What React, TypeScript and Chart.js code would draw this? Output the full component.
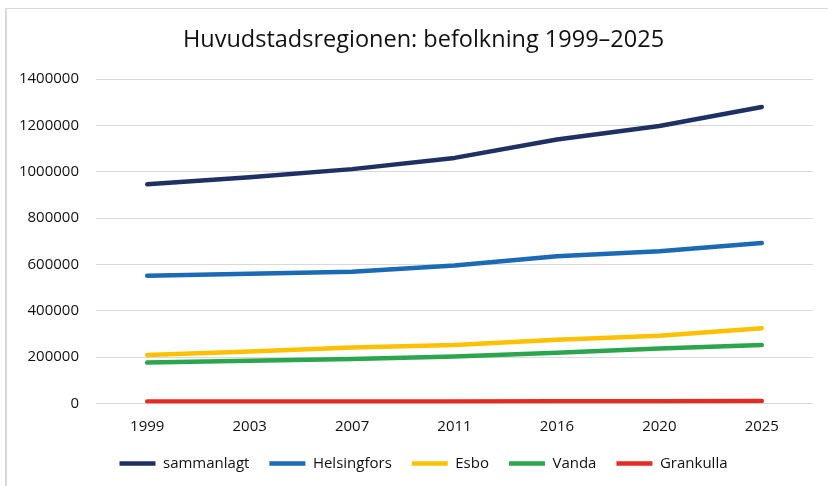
import React, { useEffect, useRef } from "react";
import { Chart, registerables } from "chart.js";

Chart.register(...registerables);

const years = ["1999", "2003", "2007", "2011", "2016", "2020", "2025"];
const sammanlagt = [945600, 976600, 1011200, 1059600, 1138600, 1197000, 1279300];
const helsingfors = [551100, 559700, 568500, 595400, 635200, 656900, 692000];
const esbo = [209700, 224200, 241600, 252400, 274600, 292800, 325000];
const vanda = [176400, 184000, 192500, 203000, 219300, 237200, 252000];
const grankulla = [8500, 8600, 8600, 8800, 9500, 10100, 10300];
const yTicks = [0, 200000, 400000, 600000, 800000, 1000000, 1200000, 1400000];

const FONT = "'Open Sans', 'Noto Sans', sans-serif";

const widenYLabelArea = {
  id: "widenYLabelArea",
  afterLayout(chart: any) {
    const y = chart.scales.y;
    if (y) y.left = 0;
  },
};

export default function App() {
  const ref = useRef<HTMLCanvasElement | null>(null);
  useEffect(() => {
    if (!ref.current) return;
    const mk = (label: string, data: number[], color: string) => ({
      label,
      data,
      borderColor: color,
      backgroundColor: color,
      borderWidth: 4.5,
      pointRadius: 0,
      pointHoverRadius: 0,
      tension: 0,
      borderCapStyle: "round" as const,
      borderJoinStyle: "round" as const,
      fill: false,
    });
    const chart = new Chart(ref.current, {
      type: "line",
      data: {
        labels: years,
        datasets: [
          mk("sammanlagt", sammanlagt, "#1F3064"),
          mk("Helsingfors", helsingfors, "#1B6AB5"),
          mk("Esbo", esbo, "#FFC000"),
          mk("Vanda", vanda, "#2BA64D"),
          mk("Grankulla", grankulla, "#E52A24"),
        ],
      },
      plugins: [widenYLabelArea],
      options: {
        animation: false,
        responsive: false,
        maintainAspectRatio: false,
        layout: { padding: { left: 34, right: 15, top: 0, bottom: 5 } },
        plugins: {
          title: {
            display: true,
            text: "Huvudstadsregionen: befolkning 1999–2025",
            color: "#111",
            font: { family: FONT, size: 23.5, weight: "normal" },
            padding: { top: 26.5, bottom: 24.3 },
          },
          legend: {
            position: "bottom",
            labels: {
              usePointStyle: true,
              pointStyle: "line",
              pointStyleWidth: 36,
              boxHeight: 15,
              padding: 20,
              color: "#111",
              font: { family: FONT, size: 15 },
            },
          },
          tooltip: { enabled: false },
        },
        scales: {
          x: {
            offset: true,
            grid: { display: false, drawTicks: false },
            border: { display: false },
            afterFit: (s: any) => {
              s.height = 32.5;
            },
            ticks: {
              color: "#111",
              padding: 14,
              font: { family: FONT, size: 15 },
            },
          },
          y: {
            min: 0,
            max: 1400000,
            afterBuildTicks: (s: any) => {
              s.ticks = yTicks.map((v) => ({ value: v }));
            },
            afterFit: (s: any) => {
              s.width = 62;
            },
            grid: { color: "#d9d9d9", lineWidth: 1, drawTicks: false },
            border: { display: false },
            ticks: {
              color: "#111",
              padding: 17,
              font: { family: FONT, size: 15 },
              callback: (v: any) => String(v),
            },
          },
        },
      },
    });
    return () => chart.destroy();
  }, []);
  return (
    <>
      <div
        style={{
          position: "fixed",
          left: 0,
          top: 0,
          width: 828,
          height: 486,
          background: "#fff",
        }}
      >
        <canvas ref={ref} width={828} height={486} style={{ display: "block", width: 828, height: 486 }} />
      </div>
      <div
        style={{
          position: "fixed",
          left: 5,
          top: 8,
          width: 840,
          height: 500,
          borderLeft: "2px solid #d9d9d9",
          borderTop: "1px solid #d9d9d9",
          pointerEvents: "none",
        }}
      />
    </>
  );
}
